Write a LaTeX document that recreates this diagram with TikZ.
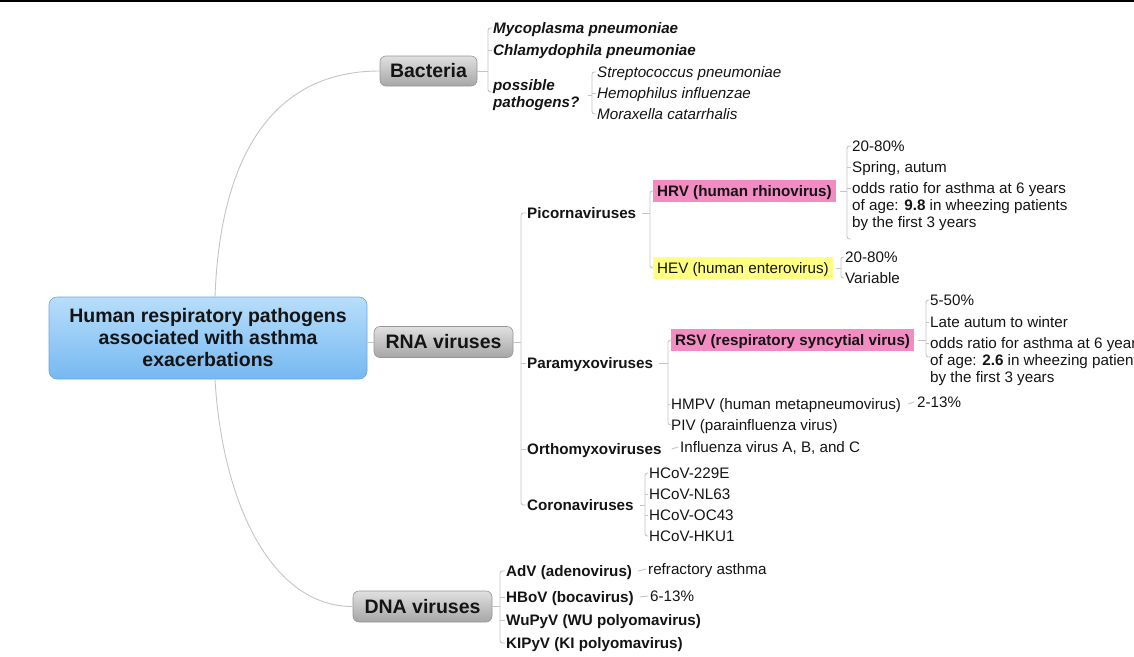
\documentclass[tikz,border=0pt]{standalone}
\usepackage{fontspec}
\setmainfont{Liberation Sans}
\definecolor{linegray}{RGB}{196,196,196}
\definecolor{greytop}{RGB}{224,224,224}
\definecolor{greybot}{RGB}{166,166,166}
\definecolor{greyedge}{RGB}{150,150,150}
\definecolor{bluetop}{RGB}{184,222,250}
\definecolor{bluebot}{RGB}{118,184,242}
\definecolor{blueedge}{RGB}{110,166,220}
\definecolor{hlpink}{RGB}{242,140,194}
\definecolor{hlyellow}{RGB}{255,255,130}
\definecolor{ink}{RGB}{20,20,20}
\begin{document}
\begin{tikzpicture}[x=1pt,y=-1pt,
  conn/.style={draw=linegray, line width=0.9pt},
  rc/.style={rounded corners=2.5pt},
  tx/.style={anchor=west, inner sep=0pt, text height=10.9pt, text depth=0pt, text=ink, font=\fontsize{15.2}{17}\selectfont},
  txb/.style={tx, font=\fontsize{15.2}{17}\selectfont\bfseries},
  txi/.style={tx, font=\fontsize{15.2}{17}\selectfont\itshape},
  txbi/.style={tx, font=\fontsize{15.2}{17}\selectfont\bfseries\itshape},
  mtx/.style={anchor=base west, inner sep=0pt, align=left, text=ink, font=\fontsize{15.2}{17}\selectfont},
  mtxbi/.style={mtx, font=\fontsize{15.2}{17}\selectfont\bfseries\itshape},
  hl/.style={tx, inner xsep=4pt, inner ysep=5.5pt},
  hlb/.style={hl, font=\fontsize{15.2}{17}\selectfont\bfseries},
  catbox/.style={draw=greyedge, line width=0.6pt, rounded corners=6pt, top color=greytop, bottom color=greybot, text=ink, font=\fontsize{19.5}{22}\selectfont\bfseries, inner sep=0pt, minimum width=139pt, minimum height=31pt},
  rootbox/.style={draw=blueedge, line width=0.6pt, rounded corners=8pt, top color=bluetop, bottom color=bluebot, text=ink, font=\fontsize{19.5}{22}\selectfont\bfseries, align=center, inner sep=0pt, minimum width=318pt, minimum height=82pt}
]
\useasboundingbox (0,0) rectangle (1134,656);
\clip (0,0) rectangle (1134,656);
\fill[black] (0,0) rectangle (1134,1.8);

% main boxes
\node[rootbox] (root) at (208,338) {Human respiratory pathogens\\associated with asthma\\exacerbations};
\node[catbox, minimum width=97pt, minimum height=30pt] (bac) at (428.5,71) {Bacteria};
\node[catbox] (rna) at (443.5,342) {RNA viruses};
\node[catbox] (dna) at (422.5,606.5) {DNA viruses};

\draw[conn] ([xshift=7pt]root.north) .. controls (220,160) and (270,71) .. (bac.west);
\draw[conn] ([xshift=7pt]root.south) .. controls (222,500) and (270,606.5) .. (dna.west);
\draw[conn] (root.east |- rna.west) -- (rna.west);

% Bacteria
\coordinate (bBac) at (488,71);
\coordinate (bBacEnd) at (488,92);
\node[txbi] (myco) at (493,28) {Mycoplasma pneumoniae};
\node[txbi] (chla) at (493,50) {Chlamydophila pneumoniae};
\node[mtxbi] (poss) at (493,107.5) {possible\\pathogens?};
\draw[conn] (bac.east) -- (bBac);
\draw[conn, rc] ([xshift=-1pt]myco.west) -- (myco.west -| bBac) -- (bBacEnd) -- ++(4,0);
\draw[conn] (chla.west -| bBac) -- ([xshift=-1pt]chla.west);

\coordinate (bPoss) at (592,95);
\node[txi] (strep) at (597,72) {Streptococcus pneumoniae};
\node[txi] (hemo) at (597,93) {Hemophilus influenzae};
\node[txi] (mora) at (597,114) {Moraxella catarrhalis};
\draw[conn] ([xshift=8pt]poss.east) -- (poss.east -| bPoss);
\draw[conn, rc] ([xshift=-1pt]strep.west) -- (strep.west -| bPoss) -- (mora.west -| bPoss) -- ([xshift=-1pt]mora.west);
\draw[conn] (hemo.west -| bPoss) -- ([xshift=-1pt]hemo.west);

% RNA viruses
\coordinate (bRna) at (521,342);
\node[txb] (pic) at (527,213) {Picornaviruses};
\node[txb] (para) at (527,363) {Paramyxoviruses};
\node[txb] (orth) at (527,449) {Orthomyxoviruses};
\node[txb] (coro) at (527,505) {Coronaviruses};
\draw[conn] (rna.east) -- (bRna);
\draw[conn, rc] ([xshift=-1pt]pic.west) -- (pic.west -| bRna) -- (coro.west -| bRna) -- ([xshift=-1pt]coro.west);
\draw[conn] (para.west -| bRna) -- ([xshift=-1pt]para.west);
\draw[conn] (orth.west -| bRna) -- ([xshift=-1pt]orth.west);

% Picornaviruses
\coordinate (bPic) at (650,213);
\node[hlb, fill=hlpink] (hrv) at (653,191) {HRV (human rhinovirus)};
\node[hl, fill=hlyellow] (hev) at (653,268) {HEV (human enterovirus)};
\draw[conn] ([xshift=6pt]pic.east) -- (bPic);
\draw[conn, rc] (hrv.west) -- (hrv.west -| bPic) -- (hev.west -| bPic) -- (hev.west);

\coordinate (bHrv) at (847,191);
\coordinate (hEnd) at (847,239);
\node[tx] (h1) at (852,146) {20-80\%};
\node[tx] (h2) at (852,167) {Spring, autum};
\node[mtx] (h3) at (852,227.5) {odds ratio for asthma at 6 years\\of age: \textbf{9.8} in wheezing patients\\by the first 3 years};
\coordinate (h3c) at ([yshift=39.45pt]h3.base west);
\draw[conn] ([xshift=4pt]hrv.east) -- (hrv.east -| bHrv);
\draw[conn, rc] ([xshift=-1pt]h1.west) -- (h1.west -| bHrv) -- (hEnd) -- ++(4,0);
\draw[conn] (h2.west -| bHrv) -- ([xshift=-1pt]h2.west);
\draw[conn] (h3c -| bHrv) -- ([xshift=-1pt]h3c);

\coordinate (bHev) at (841,268);
\node[tx] (e1) at (845,257) {20-80\%};
\node[tx] (e2) at (845,278) {Variable};
\draw[conn] ([xshift=3pt]hev.east) -- (hev.east -| bHev);
\draw[conn, rc] ([xshift=-1pt]e1.west) -- (e1.west -| bHev) -- (e2.west -| bHev) -- ([xshift=-1pt]e2.west);

% Paramyxoviruses
\coordinate (bPara) at (668,363);
\node[hlb, fill=hlpink] (rsv) at (671,340) {RSV (respiratory syncytial virus)};
\node[tx] (hmpv) at (671,404) {HMPV (human metapneumovirus)};
\node[tx] (piv) at (671,425) {PIV (parainfluenza virus)};
\draw[conn] ([xshift=6pt]para.east) -- (bPara);
\draw[conn, rc] (rsv.west) -- (rsv.west -| bPara) -- (piv.west -| bPara) -- ([xshift=-1pt]piv.west);
\draw[conn] (hmpv.west -| bPara) -- ([xshift=-1pt]hmpv.west);

\coordinate (bRsv) at (926,340);
\coordinate (rEnd) at (926,357);
\node[tx] (r1) at (930,300) {5-50\%};
\node[tx] (r2) at (930,322) {Late autum to winter};
\node[mtx] (r3) at (930,382.5) {odds ratio for asthma at 6 years\\of age: \textbf{2.6} in wheezing patients\\by the first 3 years};
\coordinate (r3c) at ([yshift=39.45pt]r3.base west);
\draw[conn] ([xshift=4pt]rsv.east) -- (rsv.east -| bRsv);
\draw[conn, rc] ([xshift=-1pt]r1.west) -- (r1.west -| bRsv) -- (rEnd) -- ++(4,0);
\draw[conn] (r2.west -| bRsv) -- ([xshift=-1pt]r2.west);
\draw[conn] (r3c -| bRsv) -- ([xshift=-1pt]r3c);

\node[tx] (p213) at (917,402) {2-13\%};
\draw[conn] ([xshift=7pt]hmpv.east) -- ([xshift=-3pt]p213.west);

% Orthomyxoviruses
\node[tx] (infl) at (680,447) {Influenza virus A, B, and C};
\draw[conn] ([xshift=10pt]orth.east) -- ([xshift=-2pt]infl.west);

% Coronaviruses
\coordinate (bCoro) at (645,505);
\node[tx] (c1) at (649,473) {HCoV-229E};
\node[tx] (c2) at (649,494) {HCoV-NL63};
\node[tx] (c3) at (649,515) {HCoV-OC43};
\node[tx] (c4) at (649,536) {HCoV-HKU1};
\draw[conn] ([xshift=6pt]coro.east) -- (bCoro);
\draw[conn, rc] ([xshift=-1pt]c1.west) -- (c1.west -| bCoro) -- (c4.west -| bCoro) -- ([xshift=-1pt]c4.west);
\draw[conn] (c2.west -| bCoro) -- ([xshift=-1pt]c2.west);
\draw[conn] (c3.west -| bCoro) -- ([xshift=-1pt]c3.west);

% DNA viruses
\coordinate (bDna) at (500,606.5);
\node[txb] (adv) at (506,571) {AdV (adenovirus)};
\node[txb] (hbov) at (506,597) {HBoV (bocavirus)};
\node[txb] (wupy) at (506,620) {WuPyV (WU polyomavirus)};
\node[txb] (kipy) at (506,643) {KIPyV (KI polyomavirus)};
\draw[conn] (dna.east) -- (bDna);
\draw[conn, rc] ([xshift=-1pt]adv.west) -- (adv.west -| bDna) -- (kipy.west -| bDna) -- ([xshift=-1pt]kipy.west);
\draw[conn] (hbov.west -| bDna) -- ([xshift=-1pt]hbov.west);
\draw[conn] (wupy.west -| bDna) -- ([xshift=-1pt]wupy.west);

\node[tx] (refr) at (648,569) {refractory asthma};
\node[tx] (p613) at (650,596) {6-13\%};
\draw[conn] ([xshift=6pt]adv.east) -- ([xshift=-2pt]refr.west);
\draw[conn] ([xshift=6pt]hbov.east) -- ([xshift=-2pt]p613.west);
\end{tikzpicture}
\end{document}
